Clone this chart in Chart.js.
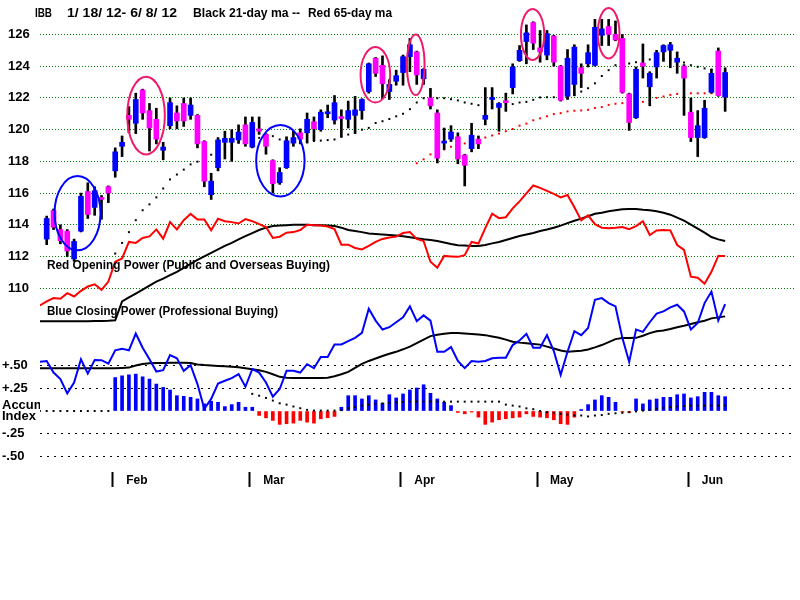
<!DOCTYPE html>
<html>
<head>
<meta charset="utf-8">
<script src="https://cdn.jsdelivr.net/npm/chart.js@4.4.1/dist/chart.umd.min.js"></script>
<style>
  html, body { margin: 0; padding: 0; background: #fff; }
  #wrap { width: 800px; height: 600px; }
</style>
</head>
<body>
<div id="wrap"><canvas id="chart" width="800" height="600"></canvas></div>
<script>
// IBB daily candles, 1/18/12 - 6/8/12 (day 0 = Jan 18)
const monthNames = ["Feb", "Mar", "Apr", "May", "Jun"];
const monthStarts = [10, 30, 52, 72, 94];
const priceTicks = [110, 112, 114, 116, 118, 120, 122, 124, 126];
const accumTicks = [0.5, 0.25, 0, -0.25, -0.5];
const accumTickLabels = ["+.50", "+.25", ["Accum", "Index"], "-.25", "-.50"];

const open = [113.1, 114.9, 113.7, 113.6, 111.85, 113.6, 116.1, 115.1, 115.7, 116.4,
  117.4, 118.95, 120.9, 120.4, 122.5, 121.2, 120.65, 118.7, 120.25, 121.05,
  121.65, 120.9, 120.9, 119.25, 115.9, 117.6, 119.2, 119.2, 119.35, 120.3,
  118.9, 120.05, 119.7, 118.05, 116.65, 117.6, 119.15, 119.8, 119.8, 120.5,
  120.0, 121.0, 120.6, 120.8, 120.65, 120.9, 121.2, 122.4, 124.5, 124.05,
  122.4, 123.05, 123.6, 124.6, 124.9, 123.2, 122.0, 121.05, 119.15, 119.4,
  119.55, 118.4, 118.8, 119.4, 120.65, 121.9, 121.4, 121.75, 122.65, 124.35,
  125.55, 126.75, 125.15, 124.7, 125.9, 124.0, 122.1, 122.85, 123.9, 124.15,
  124.05, 125.95, 126.5, 126.0, 125.75, 122.25, 120.75, 124.2, 122.7, 123.95,
  124.9, 125.0, 124.25, 124.0, 121.1, 119.5, 119.5, 122.35, 124.95, 122.05];
const high = [114.55, 115.0, 114.0, 113.7, 113.1, 116.0, 116.65, 116.4, 115.85, 116.45,
  118.85, 119.6, 121.45, 122.3, 122.55, 121.65, 121.35, 119.2, 122.0, 121.5,
  122.0, 122.0, 120.95, 119.3, 117.25, 119.5, 119.9, 120.0, 120.3, 120.8,
  120.8, 120.8, 119.75, 118.1, 117.6, 119.55, 119.9, 120.05, 121.05, 120.8,
  121.25, 121.55, 122.15, 121.25, 121.8, 122.1, 121.95, 124.2, 124.55, 124.65,
  123.15, 123.75, 124.7, 125.75, 124.95, 123.85, 122.6, 121.25, 120.1, 120.25,
  119.8, 118.45, 120.4, 119.6, 122.65, 122.65, 121.7, 122.3, 124.15, 125.3,
  126.6, 126.8, 126.25, 126.25, 125.95, 124.05, 125.05, 125.35, 124.15, 125.35,
  126.95, 126.95, 126.95, 126.85, 126.0, 122.3, 123.95, 125.4, 123.65, 125.0,
  125.35, 125.5, 124.9, 124.1, 122.0, 121.2, 121.85, 123.8, 125.15, 123.9];
const low = [112.75, 113.7, 112.8, 112.0, 111.7, 113.55, 114.4, 114.6, 114.35, 115.4,
  117.0, 118.3, 119.8, 119.75, 120.65, 118.65, 119.1, 118.1, 120.05, 120.05,
  120.2, 120.65, 118.85, 116.4, 115.6, 117.4, 118.15, 118.0, 119.15, 118.95,
  118.85, 119.7, 118.45, 116.0, 116.55, 117.55, 118.95, 119.1, 119.15, 119.3,
  119.9, 120.75, 120.35, 119.55, 120.1, 119.75, 120.65, 122.3, 123.35, 121.95,
  121.9, 122.8, 122.8, 123.65, 122.85, 122.85, 121.3, 117.9, 118.75, 119.25,
  117.85, 116.45, 118.6, 118.8, 120.3, 121.3, 119.9, 121.15, 122.25, 124.3,
  124.15, 125.05, 124.25, 124.4, 124.0, 121.8, 121.9, 122.15, 122.65, 123.95,
  124.0, 125.3, 125.3, 125.6, 122.3, 119.95, 120.7, 123.25, 121.5, 123.25,
  124.3, 123.9, 123.55, 120.9, 119.25, 118.3, 119.45, 122.3, 122.1, 121.15];
const close = [114.4, 113.85, 113.0, 112.35, 112.95, 115.8, 114.65, 116.15, 115.6, 116.0,
  118.6, 119.2, 120.65, 121.9, 121.05, 120.1, 119.4, 118.9, 121.7, 120.55,
  120.55, 121.55, 119.1, 116.75, 116.75, 119.35, 119.45, 119.45, 119.85, 119.1,
  120.45, 119.9, 118.95, 116.6, 117.3, 119.3, 119.5, 119.4, 120.65, 120.05,
  121.1, 121.05, 121.7, 120.7, 121.2, 121.25, 121.9, 124.15, 123.55, 122.9,
  122.85, 123.4, 124.6, 125.35, 123.45, 123.8, 121.5, 118.2, 119.2, 119.85,
  118.15, 117.75, 119.65, 119.1, 120.9, 122.0, 121.65, 121.7, 123.95, 125.0,
  126.1, 125.45, 124.9, 126.05, 124.25, 121.85, 124.5, 125.2, 123.55, 124.85,
  126.45, 126.35, 126.0, 125.65, 122.35, 120.45, 123.8, 124.0, 123.55, 124.85,
  125.3, 125.35, 124.5, 123.25, 119.5, 120.25, 121.35, 123.55, 122.15, 123.6];

// Black 21-day ma (from day 10) and red 65-day ma (from day 54)
const ma21Start = 10;
const ma21 = [112.19, 112.86, 113.54, 114.29, 114.92, 115.29, 115.73, 116.29, 116.86, 117.17,
  117.48, 117.81, 117.98, 118.11, 118.42, 118.61, 118.79, 118.98, 119.17, 119.29,
  119.42, 119.48, 119.54, 119.59, 119.38, 119.38, 119.36, 119.33, 119.29, 119.28,
  119.31, 119.34, 119.38, 119.54, 119.69, 119.86, 120.0, 120.11, 120.42, 120.53,
  120.67, 120.84, 121.0, 121.29, 121.71, 121.98, 121.98, 121.98, 121.98, 121.92,
  121.84, 121.71, 121.63, 121.54, 121.58, 121.61, 121.64, 121.67, 121.61, 121.71,
  121.75, 121.88, 122.03, 122.04, 122.04, 122.01, 121.98, 122.17, 122.4, 122.61,
  122.92, 123.38, 123.75, 124.06, 124.14, 124.17, 124.25, 124.33, 124.42, 124.45,
  124.45, 124.42, 124.36, 124.23, 124.06, 123.96, 123.86, 123.79, 123.76, 123.73];
const ma65Start = 54;
const ma65 = [117.88, 118.13, 118.44, 118.61, 118.75, 118.92,
  119.02, 119.13, 119.21, 119.36, 119.5, 119.63, 119.75, 119.9, 120.04, 120.25,
  120.38, 120.59, 120.71, 120.84, 120.98, 121.04, 121.15, 121.19, 121.21, 121.25,
  121.36, 121.42, 121.56, 121.63, 121.67, 121.7, 121.73, 121.75, 121.89, 122.0,
  122.09, 122.19, 122.25, 122.27, 122.29, 122.29, 122.29, 122.3, 122.3, 122.3];

// Indicator lines start one day before the first candle
const lineStart = -1;
// Red Opening Power and its black ma (drawn on the price scale)
const opPower = [108.92, 109.17, 109.38, 109.34, 109.69, 109.48, 109.84, 110.11, 110.25, 109.9, 110.42,
  111.67, 111.88, 112.92, 112.86, 113.17, 113.27, 113.71, 113.13, 114.17, 113.71,
  114.29, 114.69, 114.34, 114.34, 113.65, 114.38, 114.23, 114.17, 114.08, 114.36,
  114.23, 114.04, 113.86, 113.17, 113.25, 113.5, 113.54, 113.67, 114.0, 113.98,
  113.96, 113.89, 113.73, 112.75, 112.75, 112.54, 112.45, 112.67, 112.92, 113.11,
  113.2, 113.26, 113.48, 113.54, 113.11, 112.98, 111.67, 111.29, 112.04, 112.01,
  111.98, 112.09, 112.92, 112.82, 113.79, 114.7, 114.42, 114.48, 115.04, 115.48,
  115.98, 116.48, 116.33, 116.14, 115.95, 115.73, 115.88, 115.11, 114.28, 114.59,
  114.04, 113.82, 113.79, 113.82, 113.86, 113.73, 113.92, 114.23, 113.36, 113.64,
  113.68, 113.65, 112.73, 112.42, 110.73, 110.67, 110.29, 111.04, 112.04, 112.04];
const opPowerMa = [107.92, 107.92, 107.92, 107.92, 107.92, 107.92, 107.92, 107.92, 107.93, 107.94, 107.95,
  107.98, 109.17, 109.42, 109.67, 109.92, 110.17, 110.42, 110.61, 110.83, 111.04,
  111.29, 111.54, 111.79, 112.01, 112.23, 112.45, 112.67, 112.86, 113.08, 113.29,
  113.48, 113.67, 113.82, 113.92, 113.96, 113.98, 114.0, 114.0, 114.0, 113.98,
  113.98, 113.96, 113.92, 113.82, 113.67, 113.61, 113.54, 113.45, 113.42, 113.39,
  113.36, 113.33, 113.28, 113.22, 113.16, 113.09, 113.04, 112.98, 112.89, 112.79,
  112.71, 112.69, 112.67, 112.67, 112.73, 112.83, 112.92, 113.04, 113.17, 113.29,
  113.39, 113.48, 113.61, 113.7, 113.82, 113.95, 114.11, 114.26, 114.39, 114.54,
  114.7, 114.76, 114.86, 114.92, 114.98, 115.0, 115.0, 114.95, 114.92, 114.86,
  114.76, 114.64, 114.45, 114.26, 114.01, 113.76, 113.51, 113.23, 113.08, 112.98];

// Blue Closing Power and its black ma (drawn on the accum scale)
const cpPower = [0.547, 0.555, 0.426, 0.354, 0.196, 0.316, 0.574, 0.415, 0.566, 0.563, 0.525,
  0.673, 0.690, 0.673, 0.859, 0.701, 0.574, 0.437, 0.453, 0.621, 0.585,
  0.445, 0.508, 0.299, 0.024, 0.134, 0.305, 0.335, 0.365, 0.409, 0.269,
  0.464, 0.426, 0.316, 0.159, 0.244, 0.445, 0.445, 0.426, 0.519, 0.475,
  0.599, 0.599, 0.738, 0.738, 0.775, 0.811, 0.866, 1.134, 1.002, 0.903,
  0.929, 0.984, 1.038, 1.159, 0.995, 1.060, 1.002, 0.657, 0.657, 0.709,
  0.555, 0.475, 0.555, 0.547, 0.555, 0.585, 0.591, 0.591, 0.731, 0.782,
  0.855, 0.701, 0.701, 0.841, 0.665, 0.401, 0.657, 0.885, 0.841, 0.921,
  1.233, 1.251, 1.196, 1.159, 0.811, 0.544, 0.903, 0.877, 0.984, 1.079,
  1.104, 1.148, 1.178, 1.104, 0.903, 0.976, 1.196, 1.324, 1.002, 1.185];
const cpPowerMa = [0.475, 0.475, 0.475, 0.475, 0.475, 0.475, 0.475, 0.475, 0.475, 0.475, 0.475,
  0.475, 0.478, 0.481, 0.505, 0.520, 0.529, 0.533, 0.533, 0.535, 0.536,
  0.536, 0.533, 0.516, 0.509, 0.504, 0.5, 0.496, 0.492, 0.484, 0.474,
  0.464, 0.451, 0.434, 0.407, 0.379, 0.370, 0.366, 0.365, 0.365, 0.365,
  0.365, 0.368, 0.385, 0.407, 0.434, 0.478, 0.522, 0.555, 0.582, 0.610,
  0.634, 0.656, 0.684, 0.714, 0.753, 0.791, 0.830, 0.846, 0.857, 0.865,
  0.865, 0.859, 0.854, 0.848, 0.841, 0.827, 0.813, 0.791, 0.767, 0.758,
  0.751, 0.744, 0.736, 0.714, 0.692, 0.670, 0.657, 0.663, 0.669, 0.681,
  0.705, 0.731, 0.764, 0.797, 0.808, 0.810, 0.811, 0.835, 0.863, 0.885,
  0.893, 0.909, 0.929, 0.945, 0.964, 0.984, 1.0, 1.027, 1.038, 1.049];

// Accumulation Index bars (from day 10) and its dotted ma (from day -1)
const accumStart = 10;
const accum = [0.371, 0.390, 0.401, 0.409, 0.379, 0.354, 0.299, 0.262, 0.233, 0.170,
  0.163, 0.152, 0.134, 0.079, 0.108, 0.097, 0.049, 0.071, 0.097, 0.042,
  0.042, -0.049, -0.075, -0.104, -0.148, -0.141, -0.134, -0.104, -0.123, -0.134,
  -0.086, -0.075, -0.060, 0.042, 0.170, 0.170, 0.134, 0.170, 0.123, 0.086,
  0.181, 0.145, 0.189, 0.233, 0.255, 0.291, 0.196, 0.134, 0.097, 0.060,
  -0.016, -0.031, -0.011, -0.068, -0.148, -0.123, -0.097, -0.086, -0.075, -0.068,
  -0.031, -0.060, -0.068, -0.075, -0.097, -0.141, -0.148, -0.068, 0.016, 0.071,
  0.123, 0.170, 0.152, 0.097, -0.011, -0.016, 0.134, 0.079, 0.123, 0.134,
  0.152, 0.152, 0.181, 0.189, 0.145, 0.159, 0.207, 0.207, 0.170, 0.159];
const accumMa = [0, 0, 0, 0, 0, 0, 0, 0, 0, 0, 0,
  null, null, null, null, null, null, null, null, null, null,
  null, null, null, null, null, null, null, null, null, null,
  0.19, 0.17, 0.145, 0.116, 0.086, 0.071, 0.05, 0.031, 0.013, 0.005,
  0.005, 0.005, 0.005, 0.01, 0.03, 0.045, 0.06, 0.07, 0.08, 0.085,
  0.09, 0.095, 0.1, 0.105, 0.105, 0.105, 0.105, 0.104, 0.104, 0.104,
  0.104, 0.104, 0.104, 0.104, 0.104, 0.104, 0.104, 0.071, 0.06, 0.05,
  0.03, 0.02, 0.0, -0.013, -0.02, -0.031, -0.04, -0.049, -0.05, -0.06,
  -0.05, -0.045, -0.031, -0.025, -0.02, -0.013, -0.005, 0.005, 0.015, 0.025,
  0.035, 0.045, 0.05, 0.055, 0.06, 0.06, 0.06, 0.06, 0.06, 0.06];

// hand-drawn rings: centre day/price, half-width in days, half-height in price
const rings = [
  { day: 4.5, price: 114.73, dDay: 3.35, dPrice: 2.34, color: "#0000ff" },
  { day: 14.5, price: 120.89, dDay: 2.74, dPrice: 2.45, color: "#ee1a6e" },
  { day: 34.1, price: 118.04, dDay: 3.53, dPrice: 2.25, color: "#0000ff" },
  { day: 47.96, price: 123.46, dDay: 2.16, dPrice: 1.75, color: "#ee1a6e" },
  { day: 53.85, price: 124.09, dDay: 1.29, dPrice: 1.91, color: "#ee1a6e" },
  { day: 70.9, price: 126.0, dDay: 1.7, dPrice: 1.61, color: "#ee1a6e" },
  { day: 82.0, price: 126.07, dDay: 1.58, dPrice: 1.59, color: "#ee1a6e" }
];

const notes = [
  { text: "IBB", x: 35, y: 13, w: 17 },
  { text: "1/ 18/ 12- 6/ 8/ 12", x: 67, y: 13, w: 110 },
  { text: "Black 21-day ma --", x: 193, y: 13, w: 107 },
  { text: "Red 65-day ma", x: 308, y: 13, w: 84 },
  { text: "Red Opening Power (Public and Overseas Buying)", x: 47, y: 265, w: 283 },
  { text: "Blue Closing Power (Professional Buying)", x: 47, y: 311, w: 231 }
];

const FONT = "'Liberation Sans', Arial, sans-serif";

function series(arr, start) {
  return arr.map(function (v, k) { return { x: start + k, y: v }; });
}

const overlay = {
  id: "overlay",
  afterDatasetsDraw: function (chart) {
    const ctx = chart.ctx;
    const xs = chart.scales.x;
    const ys = chart.scales.y;
    ctx.save();
    rings.forEach(function (r) {
      const cx = xs.getPixelForValue(r.day);
      const cy = ys.getPixelForValue(r.price);
      const rx = Math.abs(xs.getPixelForValue(r.day + r.dDay) - cx);
      const ry = Math.abs(ys.getPixelForValue(r.price + r.dPrice) - cy);
      ctx.beginPath();
      ctx.ellipse(cx, cy, rx, ry, 0, 0, Math.PI * 2);
      ctx.strokeStyle = r.color;
      ctx.lineWidth = 2;
      ctx.stroke();
    });
    ctx.fillStyle = "#000";
    ctx.font = "bold 13px " + FONT;
    ctx.textBaseline = "middle";
    ctx.textAlign = "left";
    notes.forEach(function (n) {
      const w = ctx.measureText(n.text).width;
      ctx.save();
      ctx.translate(n.x, n.y);
      ctx.scale(n.w / w, 1);
      ctx.fillText(n.text, 0, 0);
      ctx.restore();
    });
    ctx.restore();
  }
};

function noPadding(s) {
  s.paddingTop = 0;
  s.paddingBottom = 0;
  s.paddingLeft = 0;
  s.paddingRight = 0;
}

document.addEventListener("DOMContentLoaded", function () {
  const ctx = document.getElementById("chart").getContext("2d");
  const days = close.map(function (c, i) { return i; });

  const bodyData = days.map(function (i) { return { x: i, y: [open[i], close[i]] }; });
  const wickData = days.map(function (i) { return { x: i, y: [low[i], high[i]] }; });
  const bodyColors = days.map(function (i) { return close[i] >= open[i] ? "#0000ff" : "#ff00ff"; });
  const accumColors = accum.map(function (v) { return v >= 0 ? "#0000ff" : "#ff0000"; });

  const dots = function (label, data, color, axis) {
    return {
      type: "line", label: label, data: data, yAxisID: axis, showLine: false,
      pointStyle: "rect", pointRadius: 1.4, pointBorderWidth: 0,
      pointBackgroundColor: color, order: 2
    };
  };
  const line = function (label, data, color, axis) {
    return {
      type: "line", label: label, data: data, yAxisID: axis,
      borderColor: color, borderWidth: 2, pointRadius: 0, tension: 0, order: 3
    };
  };

  new Chart(ctx, {
    type: "bar",
    data: {
      datasets: [
        { label: "Body", data: bodyData, yAxisID: "y", backgroundColor: bodyColors,
          barThickness: 5, grouped: false, minBarLength: 2, order: 0 },
        { label: "Range", data: wickData, yAxisID: "y", backgroundColor: "#000",
          barThickness: 2, grouped: false, order: 1 },
        dots("Red 65-day ma", series(ma65, ma65Start), "#ff0000", "y"),
        dots("Black 21-day ma", series(ma21, ma21Start), "#000", "y"),
        line("Opening Power", series(opPower, lineStart), "#ff0000", "y"),
        line("Opening Power ma", series(opPowerMa, lineStart), "#000", "y"),
        line("Closing Power", series(cpPower, lineStart), "#0000ff", "acc"),
        line("Closing Power ma", series(cpPowerMa, lineStart), "#000", "acc"),
        dots("Accum ma", series(accumMa, lineStart), "#000", "acc"),
        { label: "Accum Index", data: series(accum, accumStart), yAxisID: "acc",
          backgroundColor: accumColors, barThickness: 3, grouped: false, order: 4 }
      ]
    },
    options: {
      responsive: false,
      animation: false,
      events: [],
      layout: { padding: { left: 2, right: 3, top: 0, bottom: 0 } },
      plugins: { legend: { display: false }, tooltip: { enabled: false } },
      scales: {
        x: {
          type: "linear", position: "bottom", min: -0.976, max: 109.34,
          offset: false, bounds: "data",
          afterBuildTicks: function (s) { s.ticks = monthStarts.map(function (v) { return { value: v - 0.35 }; }); },
          afterFit: function (s) { s.height = 128; noPadding(s); },
          grid: { offset: false, drawOnChartArea: false, drawTicks: true, tickLength: 15, tickWidth: 2, tickColor: "#000" },
          border: { display: false },
          ticks: {
            autoSkip: false, maxRotation: 0, labelOffset: 24, padding: -14, color: "#000",
            font: { family: FONT, size: 12, weight: "bold" },
            callback: function (v, i) { return monthNames[i]; }
          }
        },
        acc: {
          type: "linear", position: "left", weight: 1, min: -0.6758, max: 4.511, bounds: "data",
          afterBuildTicks: function (s) { s.ticks = accumTicks.map(function (v) { return { value: v }; }); },
          afterFit: function (s) { s.width = 38; noPadding(s); },
          grid: {
            drawTicks: false, lineWidth: 1,
            color: function (c) { return c.tick && c.tick.value === 0 ? "rgba(0,0,0,0)" : "#000"; }
          },
          border: { display: false, dash: [2, 5] },
          ticks: {
            crossAlign: "far", padding: 0, color: "#000",
            font: { family: FONT, size: 13, weight: "bold", lineHeight: 0.85 },
            callback: function (v, i) { return accumTickLabels[i]; }
          }
        },
        y: {
          type: "linear", position: "left", weight: 0, min: 98.419, max: 127.919, bounds: "data",
          afterBuildTicks: function (s) { s.ticks = priceTicks.map(function (v) { return { value: v }; }); },
          afterFit: function (s) { s.width = 0; noPadding(s); },
          grid: { drawTicks: false, color: "#008000", lineWidth: 1 },
          border: { display: false, dash: [1, 2] },
          ticks: {
            mirror: true, crossAlign: "near", padding: -32, color: "#000",
            font: { family: FONT, size: 13, weight: "bold" },
            callback: function (v) { return String(v); }
          }
        }
      }
    },
    plugins: [overlay]
  });
});
</script>
</body>
</html>
